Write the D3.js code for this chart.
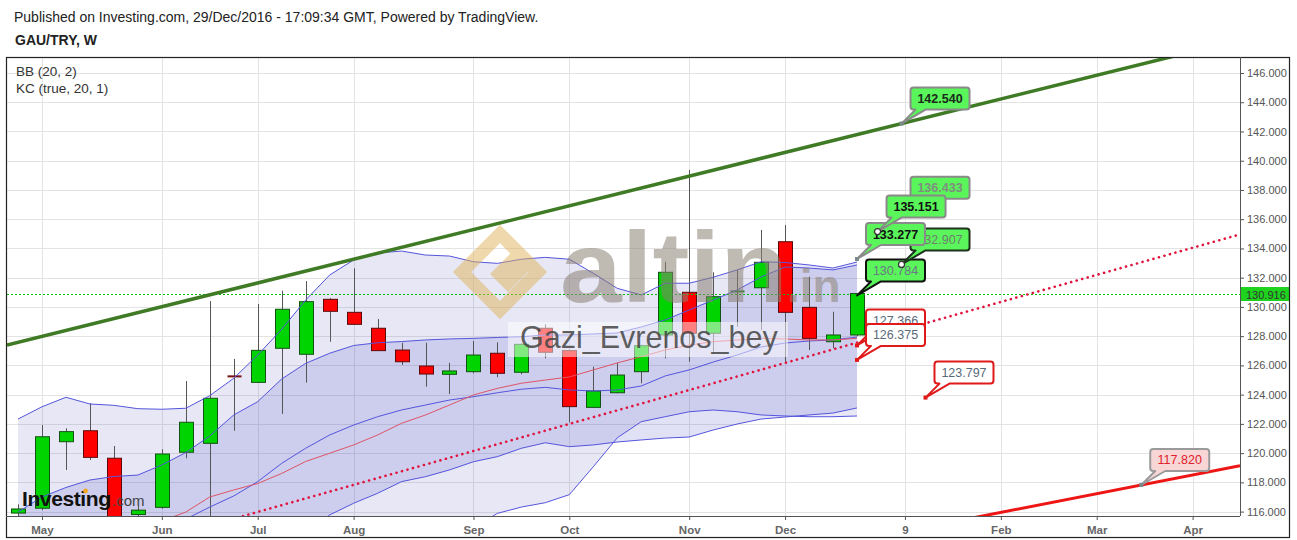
<!DOCTYPE html>
<html><head><meta charset="utf-8">
<script src="https://cdnjs.cloudflare.com/ajax/libs/d3/7.8.5/d3.min.js"></script>
<style>
body{margin:0;background:#fff;}
svg{display:block;font-family:"Liberation Sans",Arial,sans-serif;}
</style>
</head><body>
<svg id="c" width="1297" height="540"></svg>
<script>
// ---------------- DATA ----------------
const weeks = ["2016-04-25","2016-05-02","2016-05-09","2016-05-16","2016-05-23","2016-05-30","2016-06-06","2016-06-13","2016-06-20","2016-06-27","2016-07-04","2016-07-11","2016-07-18","2016-07-25","2016-08-01","2016-08-08","2016-08-15","2016-08-22","2016-08-29","2016-09-05","2016-09-12","2016-09-19","2016-09-26","2016-10-03","2016-10-10","2016-10-17","2016-10-24","2016-10-31","2016-11-07","2016-11-14","2016-11-21","2016-11-28","2016-12-05","2016-12-12","2016-12-19","2016-12-26"];
const open  = [115.90,116.23,120.78,121.53,119.65,115.80,116.29,120.06,120.67,125.25,124.84,127.17,126.76,130.52,129.63,128.54,127.05,125.96,125.39,125.57,126.83,125.53,128.54,127.01,123.13,124.13,125.57,128.08,131.00,128.20,131.00,131.31,134.46,129.97,127.62,128.08];
const high  = [116.50,121.92,121.70,123.41,120.49,116.40,120.26,124.93,130.40,126.44,130.20,131.11,131.77,130.60,132.64,129.17,127.55,127.55,126.18,127.67,127.58,127.50,128.81,127.10,125.91,126.18,127.40,133.09,139.37,132.37,132.53,135.26,135.60,132.07,129.67,130.92];
const low   = [115.50,116.10,118.85,119.53,114.80,115.50,116.20,119.65,115.00,121.53,124.80,122.68,124.82,127.62,128.80,127.00,126.03,124.54,124.04,125.46,125.19,125.39,126.49,122.10,123.10,124.09,124.78,126.49,126.25,126.94,128.65,128.42,126.25,127.05,127.17,128.00];
const close = [116.18,121.12,121.47,119.71,115.20,116.10,119.94,122.11,123.75,125.20,127.03,129.84,130.36,129.70,128.81,127.01,126.25,125.41,125.62,126.71,125.46,127.44,126.90,123.18,124.25,125.34,127.35,132.37,128.20,130.70,131.06,133.05,129.63,127.85,128.08,130.916];

const bbUpper = [122.33,123.17,123.82,123.36,123.27,123.04,123.00,123.07,123.93,125.12,126.71,128.47,130.47,132.18,133.21,133.69,133.82,133.55,133.48,133.09,132.98,133.26,133.39,133.26,132.30,131.27,130.82,131.62,131.62,132.03,132.53,133.09,133.04,132.87,132.66,133.07];
const bbBasis = [113.2,113.6,114.0,114.4,114.8,115.1,115.36,115.97,117.00,117.48,117.92,118.61,119.43,119.99,120.56,121.24,122.04,122.61,123.29,123.98,124.43,124.78,125.00,125.21,125.69,126.17,126.60,127.05,127.39,127.62,127.74,127.85,127.81,127.74,127.74,127.85];
const bbLower = [104.1,104.0,104.2,105.4,106.3,107.2,107.7,108.9,110.1,109.8,109.1,108.8,108.4,107.8,107.9,108.8,110.3,111.7,113.1,114.9,115.88,116.31,116.61,117.16,119.07,121.05,122.15,122.49,122.83,122.95,122.83,122.61,122.54,122.49,122.49,122.54];
const kcUpper = [115.97,117.00,117.65,118.16,118.40,118.50,119.19,120.04,121.17,122.61,123.52,125.07,126.14,126.83,127.36,127.55,127.63,127.74,127.81,127.85,127.91,127.96,128.08,128.08,128.15,128.22,128.63,129.11,129.79,130.47,131.16,132.05,132.73,132.66,132.53,132.87];
const kcBasis = [111.0,111.6,112.2,112.7,113.1,113.5,114.7,115.49,116.31,117.07,118.05,119.30,120.33,121.24,121.92,122.49,122.95,123.29,123.63,123.86,124.13,124.37,124.50,124.32,124.25,124.32,124.59,125.28,125.69,126.23,126.71,127.26,127.53,127.67,127.74,127.94];
const kcLower = [106.0,106.2,106.8,107.2,107.8,108.5,110.2,110.9,111.5,111.5,112.6,113.5,114.5,115.77,116.57,117.25,118.05,118.39,118.85,119.41,119.76,120.33,120.71,120.44,120.56,120.76,120.90,121.03,121.10,121.58,121.99,122.33,122.47,122.61,122.74,123.09];

const yTicks = [116,118,120,122,124,126,128,130,132,134,136,138,140,142,144,146];
const xTickDates  = ["2016-05-02","2016-06-06","2016-07-04","2016-08-01","2016-09-05","2016-10-03","2016-11-07","2016-12-05","2017-01-09","2017-02-06","2017-03-06","2017-04-03"];
const xTickLabels = ["May","Jun","Jul","Aug","Sep","Oct","Nov","Dec","9","Feb","Mar","Apr"];
const lastPrice = 130.916;

const greenLineDates  = ["2016-04-25","2017-01-08"];
const greenLineValues = [127.58,142.54];
const redDottedDates  = ["2016-10-03","2017-01-08"];
const redDottedValues = [122.0,128.42];
const redSolidDates   = ["2017-03-19","2017-04-09"];
const redSolidValues  = [117.82,118.78];

const calloutDates  = ["2017-01-08","2016-12-26","2017-01-08","2016-12-26","2017-01-01","2016-12-26","2016-12-26","2017-01-15","2017-01-08","2017-03-19"];
const calloutValues = [136.433,130.784,132.907,133.277,135.151,127.366,126.375,123.797,142.540,117.820];

// ---------------- STYLES / LAYOUT ----------------
const GREEN="#5af55a";
const calloutStyles = [
  {fill:GREEN,stroke:"#8a8a8a",text:"#7f8f7f",bold:true,marker:null},
  {fill:GREEN,stroke:"#111111",text:"#6a7888",bold:false,marker:null},
  {fill:GREEN,stroke:"#1d331d",text:"#6f7f6f",bold:false,marker:"white"},
  {fill:GREEN,stroke:"#8a8a8a",text:"#111111",bold:true,marker:"gray"},
  {fill:GREEN,stroke:"#8a8a8a",text:"#111111",bold:true,marker:"white"},
  {fill:"#ffffff",stroke:"#e01a1a",text:"#5a6a7a",bold:false,marker:"red"},
  {fill:"#ffffff",stroke:"#e01a1a",text:"#5a6a7a",bold:false,marker:"red"},
  {fill:"#ffffff",stroke:"#e01a1a",text:"#5a6a7a",bold:false,marker:"red"},
  {fill:GREEN,stroke:"#8a8a8a",text:"#1a2a1a",bold:true,marker:"gray"},
  {fill:"#f8d6d6",stroke:"#9a9a9a",text:"#e0202a",bold:false,marker:"gray"}
];

const PL=7, PR=1240, PT=57, PB=516;
const svg = d3.select("#c");
const parse = s => new Date(s+"T00:00:00Z");
const x = d3.scaleUtc().domain([parse(weeks[0]), parse(weeks[weeks.length-1])]).range([18,857]);
const y = d3.scaleLinear().domain([116,146]).range([511.6,73]);

const defs = svg.append("defs");
defs.append("clipPath").attr("id","plot").append("rect").attr("x",PL).attr("y",PT).attr("width",PR-PL).attr("height",PB-PT);
defs.append("clipPath").attr("id","yax").append("rect").attr("x",PR).attr("y",PT).attr("width",60).attr("height",PB-PT);

// header
svg.append("text").attr("x",14).attr("y",22).attr("font-size",14).attr("fill","#222")
  .text("Published on Investing.com, 29/Dec/2016 - 17:09:34 GMT, Powered by TradingView.");
svg.append("text").attr("x",15).attr("y",45).attr("font-size",14).attr("font-weight","bold").attr("fill","#222")
  .text("GAU/TRY, W");

const plot = svg.append("g").attr("clip-path","url(#plot)");

// grid
plot.append("g").selectAll("line").data(yTicks).join("line")
  .attr("x1",PL).attr("x2",PR).attr("y1",d=>Math.round(y(d))+0.5).attr("y2",d=>Math.round(y(d))+0.5)
  .attr("stroke","#e3e3e3");
plot.append("g").selectAll("line").data(xTickDates).join("line")
  .attr("x1",d=>Math.round(x(parse(d)))+0.5).attr("x2",d=>Math.round(x(parse(d)))+0.5)
  .attr("y1",PT).attr("y2",PB).attr("stroke","#e3e3e3");

// bands
const rows = weeks.map((w,i)=>({d:parse(w),o:open[i],h:high[i],l:low[i],c:close[i],
  bu:bbUpper[i],bm:bbBasis[i],bl:bbLower[i],ku:kcUpper[i],km:kcBasis[i],kl:kcLower[i]}));
const areaBB = d3.area().x(d=>x(d.d)).y0(d=>y(d.bl)).y1(d=>y(d.bu));
const areaKC = d3.area().x(d=>x(d.d)).y0(d=>y(d.kl)).y1(d=>y(d.ku));
plot.append("path").datum(rows).attr("d",areaBB).attr("fill","rgb(70,70,175)").attr("fill-opacity",0.13);
plot.append("path").datum(rows).attr("d",areaKC).attr("fill","rgb(70,70,200)").attr("fill-opacity",0.16);

// candles
const cw = 14;
const cg = plot.append("g");
rows.forEach(r=>{
  const cx = Math.round(x(r.d));
  const up = r.c >= r.o;
  const doji = Math.abs(r.c-r.o) < 0.1;
  cg.append("line").attr("x1",cx+0.5).attr("x2",cx+0.5).attr("y1",y(r.h)).attr("y2",y(r.l)).attr("stroke","#555");
  const top = y(Math.max(r.o,r.c)), bot = y(Math.min(r.o,r.c));
  if (doji) {
    cg.append("rect").attr("x",cx-cw/2+0.5).attr("y",top-1).attr("width",cw).attr("height",Math.max(2,bot-top+1))
      .attr("fill",up?"#2e7d2e":"#7a1010");
  } else {
    cg.append("rect").attr("x",cx-cw/2+0.5).attr("y",top).attr("width",cw).attr("height",bot-top)
      .attr("fill",up?"#00d400":"#ff0000").attr("stroke",up?"#145214":"#5a0a0a").attr("stroke-width",1);
  }
});

// indicator lines
const mk = key => d3.line().x(d=>x(d.d)).y(d=>y(d[key]));
[["bu","#5555dd"],["bl","#5555dd"],["ku","#5555dd"],["kl","#5555dd"],["km","#5555dd"],["bm","#dd5566"]].forEach(([k,c])=>{
  plot.append("path").datum(rows).attr("d",mk(k)).attr("fill","none").attr("stroke",c).attr("stroke-width",1);
});

// last price line
const ly = Math.round(y(lastPrice))+0.5;
plot.append("line").attr("x1",PL).attr("x2",PR).attr("y1",ly).attr("y2",ly)
  .attr("stroke","#00c000").attr("stroke-dasharray","2,2").attr("stroke-width",1);

// trend lines (extended across the plot)
function extLine(dates, vals){
  const x1=x(parse(dates[0])), y1=y(vals[0]), x2=x(parse(dates[1])), y2=y(vals[1]);
  const s=(y2-y1)/(x2-x1);
  return [[PL, y1+(PL-x1)*s],[PR, y1+(PR-x1)*s]];
}
plot.append("path").attr("d",d3.line()(extLine(greenLineDates,greenLineValues)))
  .attr("stroke","#3f7a25").attr("stroke-width",3.5).attr("fill","none");
plot.append("path").attr("d",d3.line()(extLine(redDottedDates,redDottedValues)))
  .attr("stroke","#e0143c").attr("stroke-width",2.6).attr("stroke-dasharray","0.1,5.6").attr("stroke-linecap","round").attr("fill","none");
plot.append("path").attr("d",d3.line()(extLine(redSolidDates,redSolidValues)))
  .attr("stroke","#ee1515").attr("stroke-width",3).attr("fill","none");

// watermarks
const wm = plot.append("g");
const lg = wm.append("g").attr("opacity",0.5);
lg.append("path").attr("d","M500,234 L538,272 L500,310 L462,272 Z").attr("fill","none").attr("stroke","#e0b45c").attr("stroke-width",13);
lg.append("path").attr("d","M512,252 L530,270 L508,292 L490,274 Z").attr("fill","#e0b45c");
wm.append("text").attr("x",560).attr("y",302).attr("font-size",100).attr("font-weight","bold")
  .attr("textLength",228).attr("lengthAdjust","spacingAndGlyphs")
  .attr("fill","#8a8272").attr("fill-opacity",0.55).text("altin");
wm.append("text").attr("x",787).attr("y",302).attr("font-size",46).attr("font-weight","bold")
  .attr("fill","#8a8272").attr("fill-opacity",0.55).text(".in");
wm.append("rect").attr("x",508).attr("y",322).attr("width",280).attr("height",35).attr("fill","#fff").attr("fill-opacity",0.5);
wm.append("text").attr("x",520).attr("y",348).attr("font-size",30.5).attr("fill","#444").attr("fill-opacity",0.85).text("Gazi_Evrenos_bey");

// Investing.com logo
svg.append("text").attr("x",22).attr("y",506).attr("font-size",21).attr("font-weight","bold").attr("letter-spacing",-0.4)
  .attr("fill","#111").text("Investing");
svg.append("circle").attr("cx",85.5).attr("cy",491).attr("r",2.4).attr("fill","#f5a623");
svg.append("text").attr("x",112).attr("y",506).attr("font-size",15).attr("fill","#444").text(".com");

// legend
svg.append("text").attr("x",16).attr("y",76).attr("font-size",13.5).attr("fill","#333").text("BB (20, 2)");
svg.append("text").attr("x",16).attr("y",93).attr("font-size",13.5).attr("fill","#333").text("KC (true, 20, 1)");

// callouts
const cl = svg.append("g").attr("clip-path","url(#plot)");
calloutValues.forEach((v,i)=>{
  const st = calloutStyles[i];
  const ax = x(parse(calloutDates[i])), ay = y(v);
  const L=ax+9, T=ay-36, R=L+59, B=T+22, r=3;
  const p = `M${L+r},${T} H${R-r} Q${R},${T} ${R},${T+r} V${B-r} Q${R},${B} ${R-r},${B} H${ax+24} L${ax},${ay} L${ax+14},${B} H${L+r} Q${L},${B} ${L},${B-r} V${T+r} Q${L},${T} ${L+r},${T} Z`;
  cl.append("path").attr("d",p).attr("fill",st.fill).attr("stroke",st.stroke).attr("stroke-width",2).attr("stroke-linejoin","round");
  cl.append("text").attr("x",(L+R)/2).attr("y",T+15.5).attr("text-anchor","middle").attr("font-size",12.5)
    .attr("font-weight",st.bold?"bold":"normal").attr("fill",st.text).text(d3.format(".3f")(v));
  if (st.marker==="white") cl.append("circle").attr("cx",ax).attr("cy",ay).attr("r",3).attr("fill","#fff").attr("stroke","#333").attr("stroke-width",1.2);
  else if (st.marker==="gray") cl.append("rect").attr("x",ax-2).attr("y",ay-2).attr("width",4).attr("height",4).attr("fill","#7a8a8a");
  else if (st.marker==="red") cl.append("rect").attr("x",ax-2).attr("y",ay-2).attr("width",4).attr("height",4).attr("fill","#e01a1a");
});

// axes
const xAxis = d3.axisBottom(x).tickValues(xTickDates.map(parse)).tickFormat((d,i)=>xTickLabels[i]).tickSize(4).tickPadding(6);
const gx = svg.append("g").attr("transform",`translate(0,${PB})`).call(xAxis);
gx.select(".domain").remove();
gx.selectAll(".tick line").attr("stroke","#555");
gx.selectAll(".tick text").attr("font-size",11.5).attr("font-weight","bold").attr("fill","#666").attr("font-family","Liberation Sans, Arial, sans-serif");

const yAxis = d3.axisRight(y).tickValues(yTicks).tickFormat(d3.format(".3f")).tickSize(4).tickPadding(3);
const gyWrap = svg.append("g").attr("clip-path","url(#yax)");
const gy = gyWrap.append("g").attr("transform",`translate(${PR},0)`).call(yAxis);
gy.select(".domain").remove();
gy.selectAll(".tick line").attr("stroke","#555");
gy.selectAll(".tick text").attr("font-size",11).attr("fill","#555").attr("font-family","Liberation Sans, Arial, sans-serif");

// last price label on axis
svg.append("rect").attr("x",PR+1).attr("y",ly-7.5).attr("width",49).attr("height",14).attr("fill","#1ed21e");
svg.append("text").attr("x",PR+6).attr("y",ly+4).attr("font-size",11).attr("fill","#333").text(d3.format(".3f")(lastPrice));

// frame and axis lines
svg.append("rect").attr("x",6.5).attr("y",57.5).attr("width",1283).attr("height",480).attr("fill","none").attr("stroke","#222").attr("stroke-width",1.2);
svg.append("line").attr("x1",6).attr("x2",PR).attr("y1",PB+0.5).attr("y2",PB+0.5).attr("stroke","#555");
svg.append("line").attr("x1",PR+0.5).attr("x2",PR+0.5).attr("y1",PT).attr("y2",PB).attr("stroke","#555");
</script>
</body></html>
